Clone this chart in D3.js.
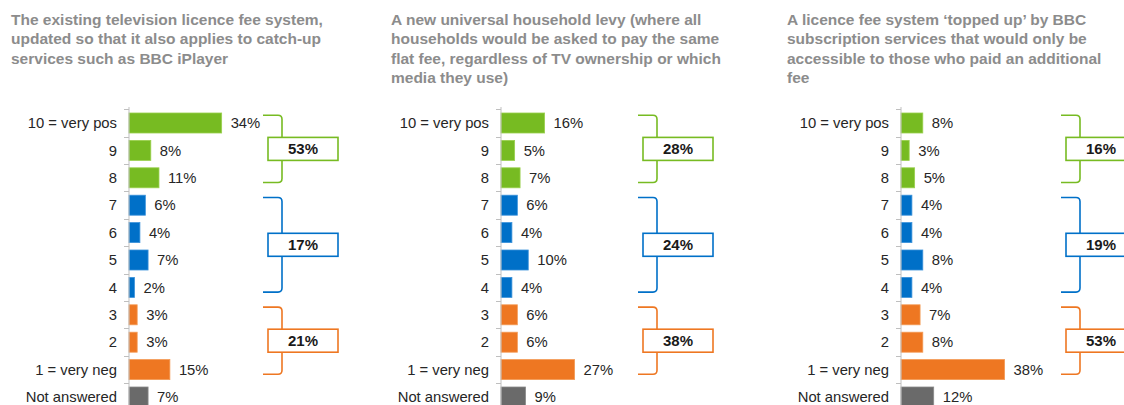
<!DOCTYPE html>
<html>
<head>
<meta charset="utf-8">
<script src="https://cdn.jsdelivr.net/npm/d3@7"></script>
<style>
  body { margin: 0; background: #fff; }
  svg { display: block; font-family: "Liberation Sans", Arial, sans-serif; }
</style>
</head>
<body>
<div id="chart"></div>
<script>
// Scores 10..1 plus not answered, three funding options

const categories = ['10 = very pos', '9', '8', '7', '6', '5', '4', '3', '2', '1 = very neg', 'Not answered'];
const groupOf = ['pos', 'pos', 'pos', 'mid', 'mid', 'mid', 'mid', 'neg', 'neg', 'neg', 'na'];

const titles = [
    ['The existing television licence fee system,', 'updated so that it also applies to catch-up', 'services such as BBC iPlayer'],
    ['A new universal household levy (where all', 'households would be asked to pay the same', 'flat fee, regardless of TV ownership or which', 'media they use)'],
    ['A licence fee system \u2018topped up\u2019 by BBC', 'subscription services that would only be', 'accessible to those who paid an additional', 'fee']
];

const licenceFee = [34, 8, 11, 6, 4, 7, 2, 3, 3, 15, 7];
const householdLevy = [16, 5, 7, 6, 4, 10, 4, 6, 6, 27, 9];
const toppedUp = [8, 3, 5, 4, 4, 8, 4, 7, 8, 38, 12];

const licenceFeeNets = [53, 17, 21];
const householdLevyNets = [28, 24, 38];
const toppedUpNets = [16, 19, 53];

// which rows each net bracket covers
const netGroups = [['pos', 0, 2], ['mid', 3, 6], ['neg', 7, 9]];

const colors = { pos: '#77bb22', mid: '#0070c8', neg: '#ee7722', na: '#6a6a6a' };
const outline = { pos: '#9ad04e', mid: '#3b92da', neg: '#f39a55', na: '#8a8a8a' };

const panels = [
    { title: titles[0], values: licenceFee, nets: licenceFeeNets, axisX: 129, titleX: 11, boxOff: 139 },
    { title: titles[1], values: householdLevy, nets: householdLevyNets, axisX: 501, titleX: 391, boxOff: 142 },
    { title: titles[2], values: toppedUp, nets: toppedUpNets, axisX: 901, titleX: 787, boxOff: 165 }
];

const width = 1124, height = 405;

const svg = d3.select('#chart').append('svg')
    .attr('width', width)
    .attr('height', height);

const x = d3.scaleLinear().domain([0, 40]).range([0, 109]);

const pad = 0.27;
const y = d3.scaleBand()
    .domain(categories)
    .range([109.3, 410.7])
    .paddingInner(pad)
    .paddingOuter(pad / 2);

const bandStart = c => y(c) - y.step() * pad / 2;
const mid = c => y(c) + y.bandwidth() / 2;

panels.forEach(p => {
    const g = svg.append('g');

    // title
    g.append('text')
        .attr('x', p.titleX)
        .attr('y', 25)
        .attr('fill', '#8c8c8c')
        .attr('font-size', '15.5px')
        .attr('font-weight', 'bold')
        .selectAll('tspan')
        .data(p.title)
        .join('tspan')
        .attr('x', p.titleX)
        .attr('dy', (d, i) => i == 0 ? 0 : 19.3)
        .text(d => d);

    const chart = g.append('g').attr('transform', `translate(${p.axisX},0)`);

    // bars
    chart.selectAll('.bar')
        .data(p.values)
        .join('rect')
        .classed('bar', true)
        .attr('x', 0)
        .attr('y', (d, i) => y(categories[i]))
        .attr('width', d => x(d))
        .attr('height', y.bandwidth())
        .attr('fill', (d, i) => colors[groupOf[i]])
        .attr('stroke', (d, i) => outline[groupOf[i]])
        .attr('stroke-width', 0.8);

    // axis line + ticks at band boundaries
    chart.append('line')
        .attr('x1', 0).attr('x2', 0)
        .attr('y1', 107).attr('y2', height)
        .attr('stroke', '#bfbfbf');

    chart.selectAll('.tick')
        .data(categories)
        .join('line')
        .classed('tick', true)
        .attr('x1', -5).attr('x2', 0)
        .attr('y1', d => Math.round(bandStart(d)) + 0.5)
        .attr('y2', d => Math.round(bandStart(d)) + 0.5)
        .attr('stroke', '#bfbfbf');

    // category labels
    chart.selectAll('.cat')
        .data(categories)
        .join('text')
        .classed('cat', true)
        .attr('x', -12)
        .attr('y', d => mid(d))
        .attr('dy', '0.35em')
        .attr('text-anchor', 'end')
        .attr('font-size', '14.8px')
        .attr('fill', '#262626')
        .text(d => d);

    // value labels
    chart.selectAll('.val')
        .data(p.values)
        .join('text')
        .classed('val', true)
        .attr('x', d => x(d) + 9)
        .attr('y', (d, i) => mid(categories[i]))
        .attr('dy', '0.35em')
        .attr('font-size', '14.8px')
        .attr('fill', '#262626')
        .text(d => `${d}%`);

    // net brackets
    const nets = chart.selectAll('.net')
        .data(netGroups)
        .join('g')
        .classed('net', true);

    const boxW = 70, boxH = 23, r = 4;
    const vx = p.boxOff + 14;
    const sx = p.boxOff - 5;
    const top = d => bandStart(categories[d[1]]) + 6;
    const bot = d => bandStart(categories[d[2]]) + y.step() - 9;

    nets.append('path')
        .attr('fill', 'none')
        .attr('stroke', d => colors[d[0]])
        .attr('stroke-width', 1.6)
        .attr('d', d => {
            const t = top(d), b = bot(d);
            return `M${sx},${t} H${vx - r} Q${vx},${t} ${vx},${t + r} V${b - r} Q${vx},${b} ${vx - r},${b} H${sx}`;
        });

    nets.append('rect')
        .attr('x', p.boxOff)
        .attr('y', d => (top(d) + bot(d)) / 2 - boxH / 2)
        .attr('width', boxW)
        .attr('height', boxH)
        .attr('fill', '#fff')
        .attr('stroke', d => colors[d[0]])
        .attr('stroke-width', 1.6);

    nets.append('text')
        .attr('x', p.boxOff + boxW / 2)
        .attr('y', d => (top(d) + bot(d)) / 2)
        .attr('dy', '0.36em')
        .attr('text-anchor', 'middle')
        .attr('font-size', '15px')
        .attr('font-weight', 'bold')
        .attr('fill', '#1a1a1a')
        .text((d, i) => `${p.nets[i]}%`);
});
</script>
</body>
</html>
